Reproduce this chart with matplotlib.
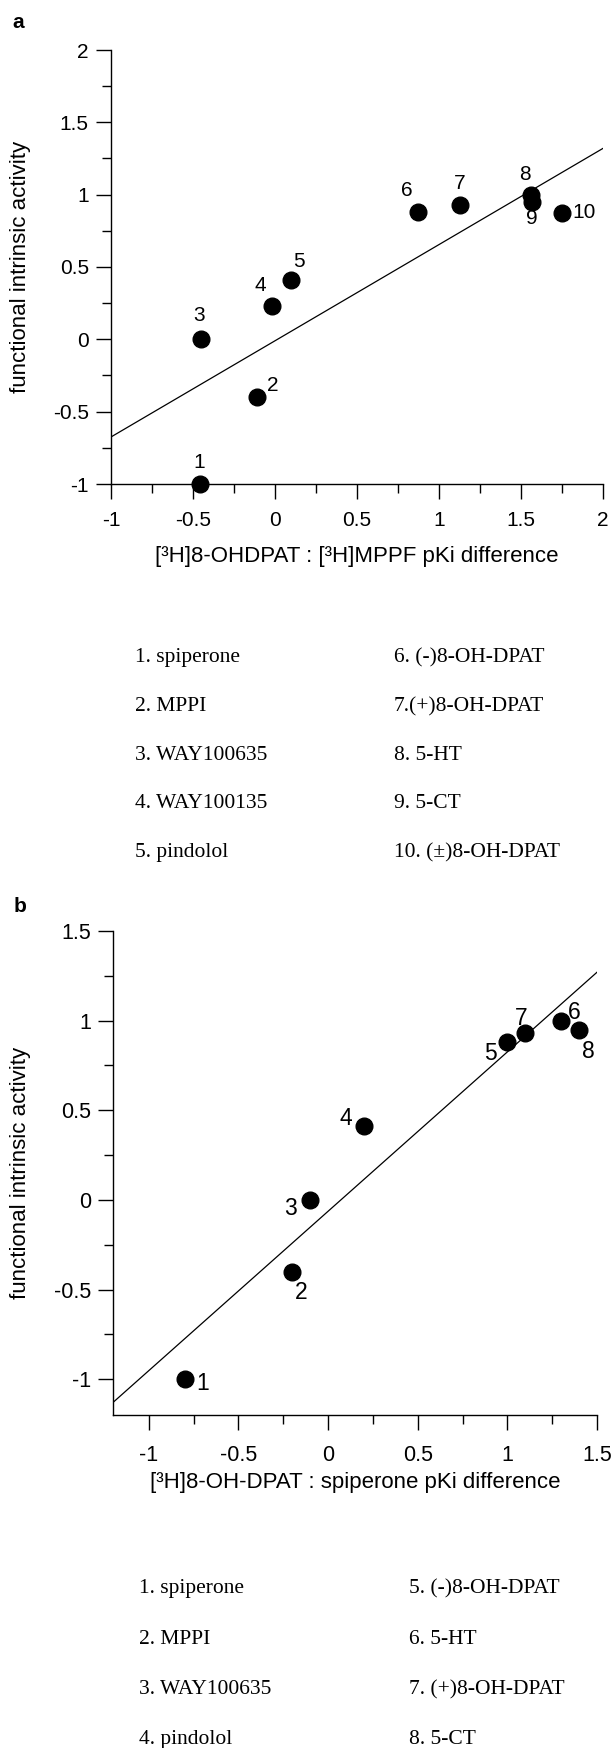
# plot.py
# two scatter panels: functional intrinsic activity vs pKi difference

import matplotlib
matplotlib.use('Agg')
import matplotlib.pyplot as plt
from matplotlib.ticker import MultipleLocator, FormatStrFormatter

plt.rcParams['font.family'] = ['Liberation Sans', 'DejaVu Sans']
plt.rcParams['axes.unicode_minus'] = False

# panel a data
a_ids = ['1', '2', '3', '4', '5', '6', '7', '8', '9', '10']
a_x = [-0.46, -0.11, -0.45, -0.02, 0.10, 0.87, 1.13, 1.56, 1.57, 1.75]
a_y = [-1.00, -0.40, 0.00, 0.23, 0.41, 0.88, 0.93, 1.00, 0.95, 0.87]
a_fit_x = [-1.0, 2.0]
a_fit_y = [-0.675, 1.32]
a_names = ['spiperone', 'MPPI', 'WAY100635', 'WAY100135', 'pindolol',
           '(-)8-OH-DPAT', '(+)8-OH-DPAT', '5-HT', '5-CT', '(\u00b1)8-OH-DPAT']

# panel b data
b_ids = ['1', '2', '3', '4', '5', '6', '7', '8']
b_x = [-0.80, -0.20, -0.10, 0.20, 1.00, 1.30, 1.10, 1.40]
b_y = [-1.00, -0.40, 0.00, 0.41, 0.88, 1.00, 0.93, 0.95]
b_fit_x = [-1.2, 1.5]
b_fit_y = [-1.13, 1.27]
b_names = ['spiperone', 'MPPI', 'WAY100635', 'pindolol',
           '(-)8-OH-DPAT', '5-HT', '(+)8-OH-DPAT', '5-CT']

# label offsets (pixels, right / up) for the point numbers
a_offsets = [(0, 21), (16, 12), (-2, 24), (-11, 21), (8, 19),
             (-11, 22), (-1, 21), (-6, 20), (-1, -17), (22, 1)]
b_offsets = [(18, -4), (9, -21), (-20, -9), (-18, 8),
             (-17, -11), (13, 8), (-4, 15), (9, -22)]

W, H = 612, 1748
fig = plt.figure(figsize=(W / 100, H / 100), dpi=100)


def px_rect(left, top, right, bottom):
    return [left / W, 1 - bottom / H, (right - left) / W, (bottom - top) / H]


def style_axes(ax, tick_size, xpad):
    for s in ['top', 'right']:
        ax.spines[s].set_visible(False)
    for s in ['left', 'bottom']:
        ax.spines[s].set_linewidth(1.0)
    ax.xaxis.set_major_locator(MultipleLocator(0.5))
    ax.xaxis.set_minor_locator(MultipleLocator(0.25))
    ax.yaxis.set_major_locator(MultipleLocator(0.5))
    ax.yaxis.set_minor_locator(MultipleLocator(0.25))
    ax.xaxis.set_major_formatter(FormatStrFormatter('%g'))
    ax.yaxis.set_major_formatter(FormatStrFormatter('%g'))
    ax.tick_params(which='major', direction='out', length=11, width=1.0,
                   labelsize=tick_size)
    ax.tick_params(which='minor', direction='out', length=6.5, width=1.0)
    ax.tick_params(axis='y', which='major', pad=5)
    ax.tick_params(axis='x', which='major', pad=xpad)


def draw_points(ax, xs, ys, ids, offsets, fsize):
    ax.plot(xs, ys, 'o', color='black', markersize=12, clip_on=False, zorder=5)
    for x, y, t, (dx, dy) in zip(xs, ys, ids, offsets):
        ax.annotate(t, (x, y), xytext=(dx * 0.72, dy * 0.72), textcoords='offset points',
                    ha='center', va='center', fontsize=fsize, zorder=6)


# ---- panel a
ax1 = fig.add_axes(px_rect(111, 50, 603, 484))
ax1.plot(a_fit_x, a_fit_y, color='black', linewidth=0.9)
draw_points(ax1, a_x, a_y, a_ids, a_offsets, 15)
ax1.set_xlim(-1, 2)
ax1.set_ylim(-1, 2)
style_axes(ax1, 15, 8.5)
ax1.set_xlabel('[\u00b3H]8-OHDPAT : [\u00b3H]MPPF pKi difference', fontsize=16)
ax1.set_ylabel('functional intrinsic activity', fontsize=16)
ax1.xaxis.set_label_coords(0.5, (484 - 546) / 434)
ax1.yaxis.set_label_coords((31 - 111) / 492, 0.5)
fig.text(12 / W, 1 - 23 / H, 'a', fontsize=15, fontweight='bold', va='center')

# ---- panel b
ax2 = fig.add_axes(px_rect(113, 931, 597, 1415))
ax2.plot(b_fit_x, b_fit_y, color='black', linewidth=0.9)
draw_points(ax2, b_x, b_y, b_ids, b_offsets, 16.5)
ax2.set_xlim(-1.2, 1.5)
ax2.set_ylim(-1.2, 1.5)
style_axes(ax2, 15.5, 10.5)
ax2.set_xlabel('[\u00b3H]8-OH-DPAT : spiperone pKi difference', fontsize=16)
ax2.set_ylabel('functional intrinsic activity', fontsize=16)
ax2.xaxis.set_label_coords(0.5, (1415 - 1472) / 484)
ax2.yaxis.set_label_coords((31 - 113) / 484, 0.5)
fig.text(14 / W, 1 - 907 / H, 'b', fontsize=15, fontweight='bold', va='center')

# ---- compound legends (serif text)
serif = ['Liberation Serif', 'DejaVu Serif']
a_rows = [662, 711, 760, 808, 857]
for i, name in enumerate(a_names):
    col = i // 5
    row = i % 5
    sep = '.' if name == '(+)8-OH-DPAT' else '. '
    xpos = 135 if col == 0 else 394
    fig.text(xpos / W, 1 - a_rows[row] / H, a_ids[i] + sep + name,
             fontsize=15.5, family=serif, va='baseline')

b_rows = [1593, 1644, 1694, 1744]
for i, name in enumerate(b_names):
    col = i // 4
    row = i % 4
    xpos = 139 if col == 0 else 409
    fig.text(xpos / W, 1 - b_rows[row] / H, b_ids[i] + '. ' + name,
             fontsize=15.5, family=serif, va='baseline')

plt.savefig('out.png', dpi=100)
